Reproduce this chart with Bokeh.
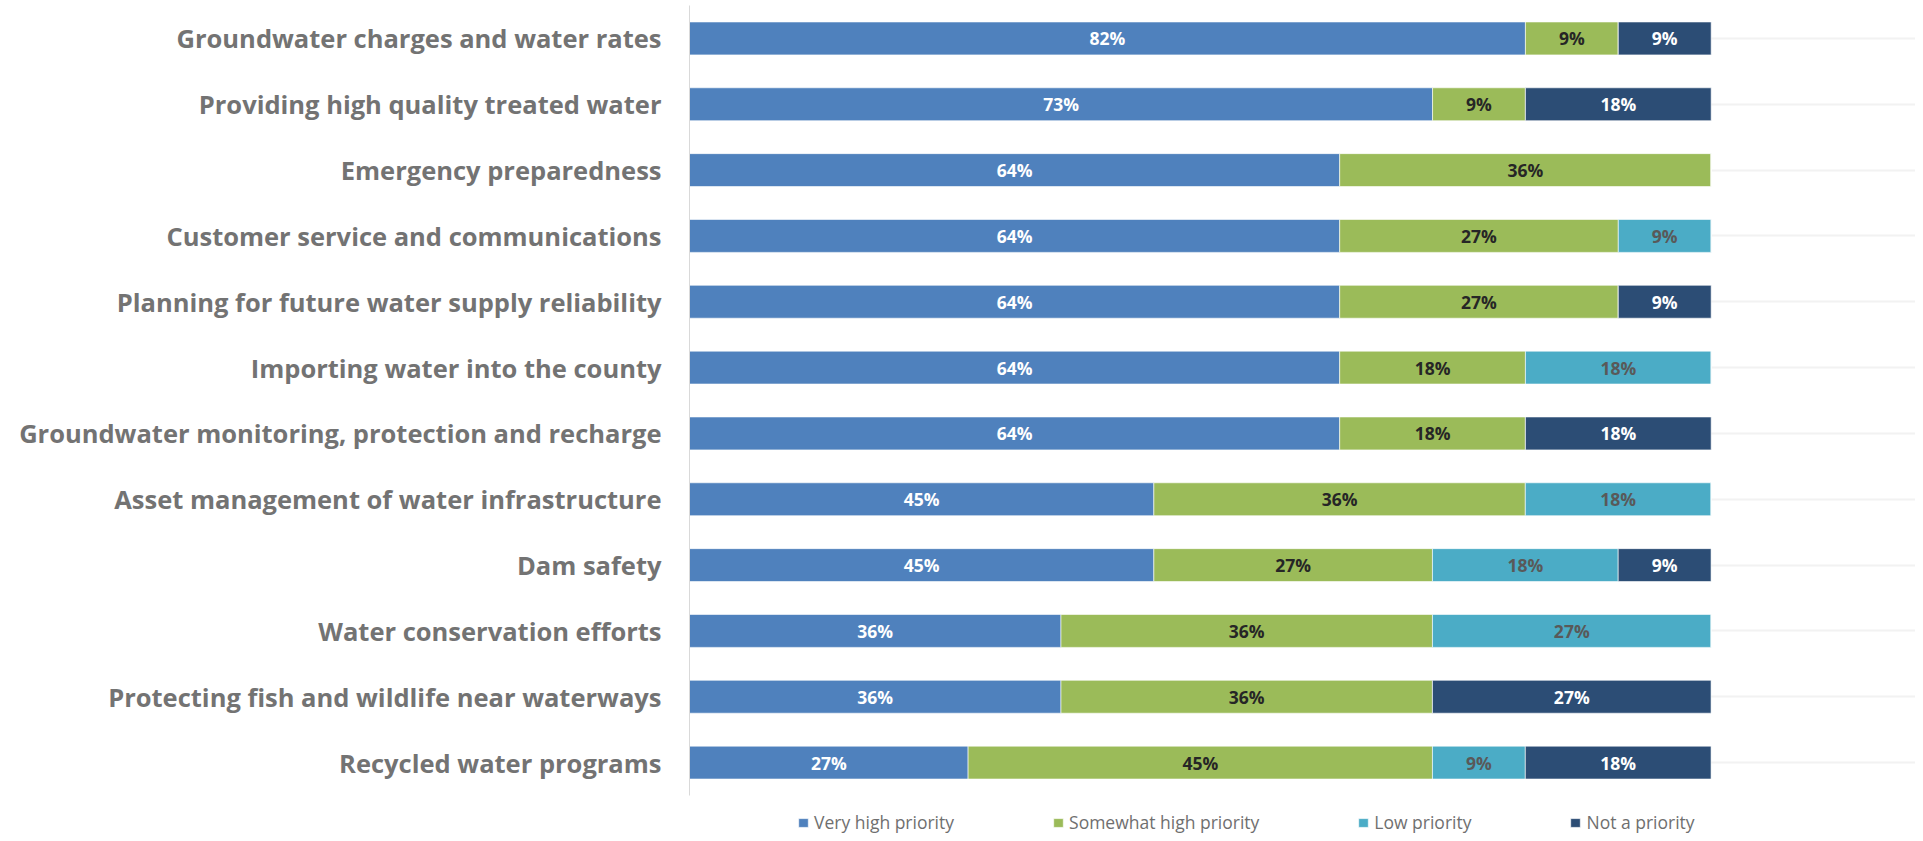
from bokeh.plotting import figure
from bokeh.models import ColumnDataSource, Range1d, Legend, LegendItem, FixedTicker
from bokeh.core.properties import value
from bokeh.embed import file_html
from bokeh.resources import INLINE

categories = [
    "Groundwater charges and water rates",
    "Providing high quality treated water",
    "Emergency preparedness",
    "Customer service and communications",
    "Planning for future water supply reliability",
    "Importing water into the county",
    "Groundwater monitoring, protection and recharge",
    "Asset management of water infrastructure",
    "Dam safety",
    "Water conservation efforts",
    "Protecting fish and wildlife near waterways",
    "Recycled water programs",
]
very_high = [81.82, 72.73, 63.64, 63.64, 63.64, 63.64, 63.64, 45.45, 45.45, 36.36, 36.36, 27.27]
somewhat_high = [9.09, 9.09, 36.36, 27.27, 27.27, 18.18, 18.18, 36.36, 27.27, 36.36, 36.36, 45.45]
low = [0, 0, 0, 9.09, 0, 18.18, 0, 18.18, 18.18, 27.27, 0, 9.09]
not_priority = [9.09, 18.18, 0, 0, 9.09, 0, 18.18, 0, 9.09, 0, 27.27, 18.18]

series_names = ["Very high priority", "Somewhat high priority", "Low priority", "Not a priority"]
series_keys = ["very_high", "somewhat_high", "low", "not_priority"]
series_values = [very_high, somewhat_high, low, not_priority]
colors = ["#4f81bd", "#9bbb59", "#4bacc6", "#2c4d75"]
label_colors = ["#ffffff", "#262626", "#595959", "#ffffff"]

FONT = "Open Sans"

n = len(categories)
ypos = [n - 1 - i for i in range(n)]  # first category at the top

data = {"cat": categories, "ypos": ypos}
for k, v in zip(series_keys, series_values):
    data[k] = v
source = ColumnDataSource(data)

FRAME_H = 833
STEP = 790 / n                       # pixels per category band
y_top = n - 0.5
y_bottom = y_top - FRAME_H / STEP    # extra room below the bands for the legend

p = figure(
    y_range=Range1d(y_bottom, y_top),
    x_range=Range1d(0, 120),
    x_axis_location=None,
    frame_width=1226, frame_height=FRAME_H,
    min_border_left=689, min_border_right=0, min_border_top=5, min_border_bottom=0,
    output_backend="svg", toolbar_location=None,
)

renderers = p.hbar_stack(series_keys, y="ypos", height=0.5, color=colors, source=source,
                         line_color="#ffffff", line_width=1, line_alpha=0.6)

# data labels
lx, ly, lt, lc = [], [], [], []
for i in range(n):
    left = 0.0
    for s, vals in enumerate(series_values):
        v = vals[i]
        if v > 0:
            lx.append(left + v / 2.0)
            ly.append(ypos[i])
            lt.append(f"{round(v)}%")
            lc.append(label_colors[s])
        left += v
lsrc = ColumnDataSource(dict(x=lx, y=ly, text=lt, color=lc))
p.text(x="x", y="y", text="text", text_color="color", source=lsrc,
       text_align="center", text_baseline="middle",
       text_font=value(FONT), text_font_size="17.5px", text_font_style="bold")

# axes / grid
p.yaxis.ticker = FixedTicker(ticks=ypos)
p.yaxis.major_label_overrides = {y: c for y, c in zip(ypos, categories)}
p.yaxis.bounds = (-0.5, n - 0.5)
p.xgrid.visible = False
p.ygrid.grid_line_color = "#f2f2f2"
p.ygrid.grid_line_width = 2
p.yaxis.axis_line_color = "#d9d9d9"
p.yaxis.axis_line_width = 1
p.yaxis.major_tick_line_color = None
p.yaxis.minor_tick_line_color = None
p.yaxis.major_tick_out = 0
p.yaxis.major_tick_in = 0
p.yaxis.major_label_standoff = 28
p.yaxis.major_label_text_font = FONT
p.yaxis.major_label_text_font_style = "bold"
p.yaxis.major_label_text_font_size = "25.5px"
p.yaxis.major_label_text_color = "#737373"
p.outline_line_color = None

legend = Legend(
    items=[LegendItem(label=s, renderers=[r]) for s, r in zip(series_names, renderers)],
    orientation="horizontal", location=(108, 4), spacing=98,
    glyph_width=12, glyph_height=11, label_standoff=5,
    padding=0, margin=0, border_line_color=None, background_fill_alpha=0,
    label_text_font=FONT, label_text_font_size="17.5px", label_text_color="#6f6f6f",
)
p.add_layout(legend, "center")

open("out.html", "w").write(file_html(p, INLINE))
